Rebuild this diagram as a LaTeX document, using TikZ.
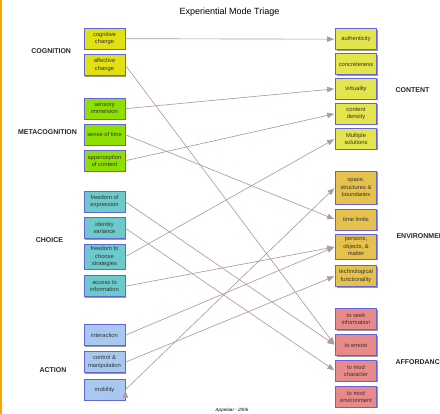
\documentclass[tikz,border=0pt]{standalone}
\usepackage{fontspec}
\setmainfont{Liberation Sans}
\usetikzlibrary{arrows.meta,shadows}

\definecolor{boxline}{HTML}{6464D8}
\definecolor{linkcol}{HTML}{B09A9A}
\definecolor{cogfill}{HTML}{E0E012}
\definecolor{metafill}{HTML}{8EE000}
\definecolor{choifill}{HTML}{6CCACA}
\definecolor{actfill}{HTML}{A8C8F0}
\definecolor{contfill}{HTML}{E4E44C}
\definecolor{envfill}{HTML}{E6C24C}
\definecolor{affofill}{HTML}{E88A8A}
\definecolor{barcol}{HTML}{F8A800}

\begin{document}
\begin{tikzpicture}[x=1pt,y=-1pt,>={Triangle[length=7pt,width=5.5pt]},shorten >=1pt,node distance=26.5pt,
	mode/.style={draw=boxline,line width=0.8pt,minimum width=41pt,minimum height=21pt,inner sep=1.5pt,align=center,
		font=\fontsize{5.8}{7.4}\selectfont,text=black!80,
		drop shadow={shadow xshift=1.2pt,shadow yshift=-1.2pt,fill=black!40,opacity=1}},
	cogn/.style={mode,fill=cogfill},
	meta/.style={mode,fill=metafill},
	choi/.style={mode,fill=choifill},
	act/.style={mode,fill=actfill},
	cont/.style={mode,fill=contfill},
	envi/.style={mode,fill=envfill},
	affo/.style={mode,fill=affofill},
	group/.style={font=\bfseries\fontsize{7}{8}\selectfont,text=black!85}]

\useasboundingbox (0,0) rectangle (440,414);
\fill[barcol] (0,0) rectangle (2,414);

\node (title) at (229.5,12.5) {\fontsize{9}{10}\selectfont Experiential Mode Triage};
\node (foot) at (232,410) {\fontsize{4.6}{5}\selectfont\itshape Appelaar - 2006};

% left column
\node[cogn]   (c1) at (104.5,38.7)      				{cognitive\\change};
\node[cogn]   (c2)[below of=c1]      				{affective\\change};

\node[meta]   (m1)[node distance=43.5pt,below of=c2]      				{sensory\\immersion};
\node[meta]   (m2)[node distance=26pt,below of=m1]      				{sense of time};
\node[meta]   (m3)[node distance=26pt,below of=m2]      				{apperception\\of content};

\node[choi]   (h1)[node distance=41pt,below of=m3]      				{freedom of\\expression};
\node[choi]   (h2)[below of=h1]      				{identity\\variance};
\node[choi,minimum height=25pt]   (h3)[node distance=28.5pt,below of=h2]      				{freedom to\\choose\\strategies};
\node[choi]   (h4)[node distance=29.5pt,below of=h3]      				{access to\\information};

\node[act]   (a1)[node distance=49pt,below of=h4]      				{interaction};
\node[act]   (a2)[node distance=27pt,below of=a1]      				{control \&\\manipulation};
\node[act]   (a3)[node distance=27.5pt,below of=a2]      				{mobility};

% right column
\node[cont]   (n1) at (356,39.2)      				{authenticity};
\node[cont]   (n2)[node distance=25pt,below of=n1]      				{concreteness};
\node[cont]   (n3)[node distance=24.6pt,below of=n2]      				{virtuality};
\node[cont]   (n4)[node distance=24.9pt,below of=n3]      				{content\\density};
\node[cont]   (n5)[node distance=25pt,below of=n4]      				{Multiple\\solutions};

\node[envi,minimum height=33pt]   (e1)[node distance=48.8pt,below of=n5]      				{space,\\structures \&\\boundaries};
\node[envi]   (e2)[node distance=32pt,below of=e1]      				{time limits};
\node[envi,minimum height=25pt]   (e3)[node distance=27.3pt,below of=e2]      				{persons,\\objects, \&\\matter};
\node[envi]   (e4)[node distance=29.2pt,below of=e3]      				{technological\\functionality};

\node[affo]   (f1)[node distance=43.2pt,below of=e4]      				{to seek\\information};
\node[affo]   (f2)[node distance=26pt,below of=f1]      				{to emote};
\node[affo]   (f3)[node distance=25.6pt,below of=f2]      				{to mod\\character};
\node[affo]   (f4)[node distance=26pt,below of=f3]      				{to mod\\environment};

% group labels
\node[group]   (gcog) at (51.2,51)      				{COGNITION};
\node[group]   (gmeta) at (47.5,132)      				{METACOGNITION};
\node[group]   (gchoi) at (49.5,240)      				{CHOICE};
\node[group]   (gact) at (53,370)      				{ACTION};
\node[group,anchor=west]   (gcont) at (392,90.5)      				{CONTENT};
\node[group,anchor=west]   (genv) at (393,236)      				{ENVIRONMENT};
\node[group,anchor=west]   (gaff) at (392,362)      				{AFFORDANCE};

	\path[->,draw=linkcol,fill=linkcol,line width=0.65pt]
						(c1.east)  edge	  	(n1.west)
						(c2.east)  edge	  	(f2.west)
						(m1.east)  edge	  	(n3.west)
						(m2.east)  edge	  	(e2.west)
						(m3.east)  edge	  	(n4.west)
						(h1.east)  edge	  	(f2.west)
						(h2.east)  edge	  	(f3.west)
						(h3.east)  edge	  	(n5.west)
						(h4.east)  edge	  	(e3.west)
						(a1.east)  edge	  	(e3.west)
						(a2.east)  edge	  	(e4.west)
						(a3.east)  edge	  	(e1.west);
\end{tikzpicture}
\end{document}
